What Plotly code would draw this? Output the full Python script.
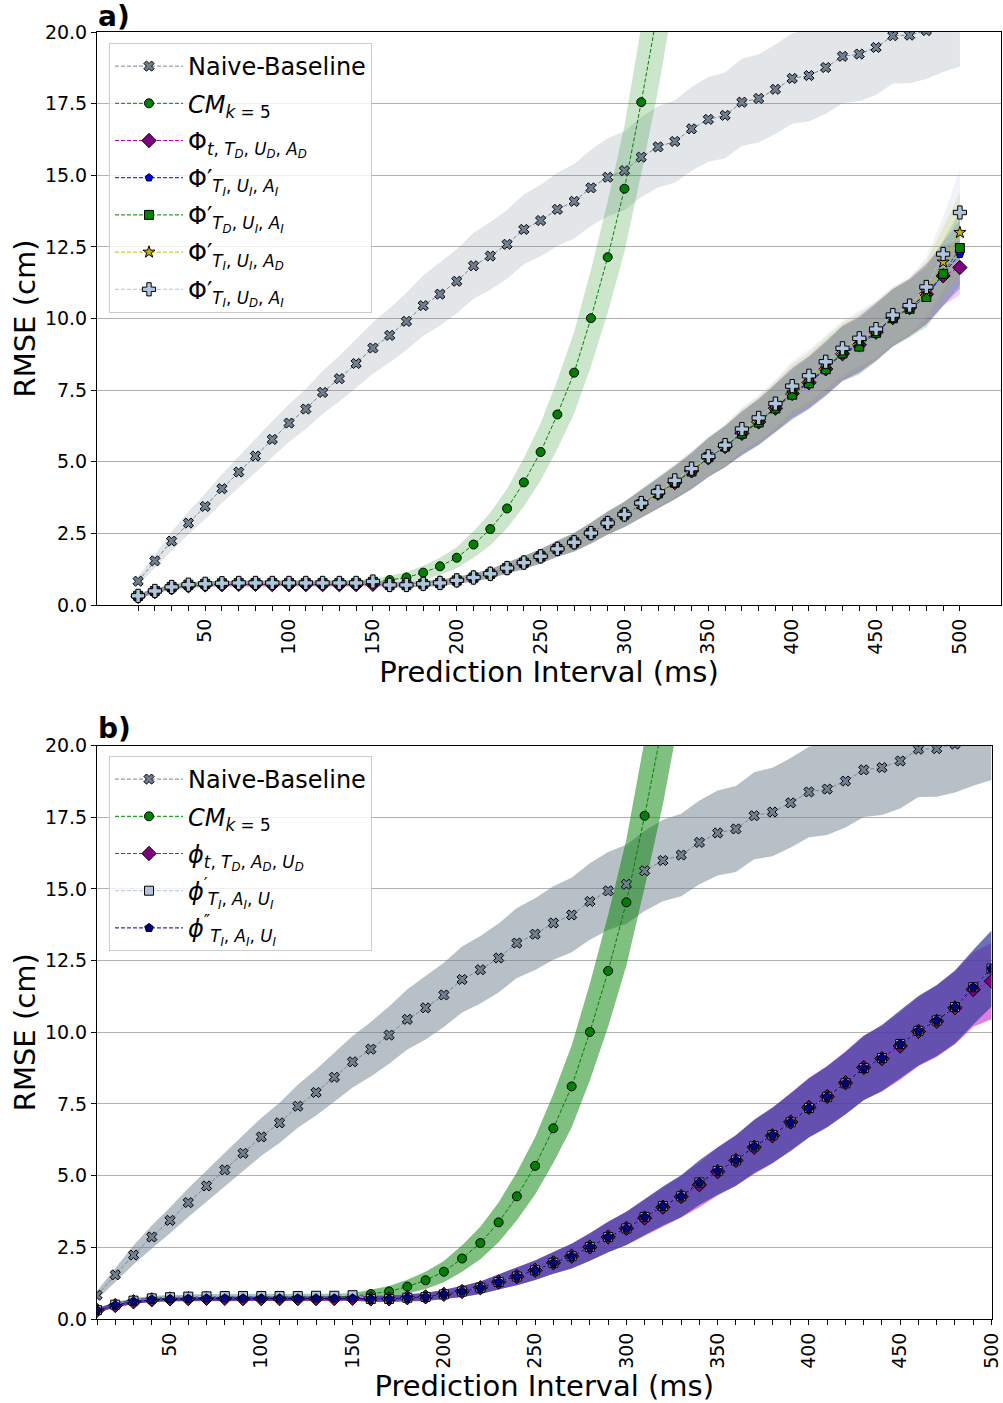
import plotly.graph_objects as go

# Prediction intervals (ms)
ms = list(range(10, 510, 10))

# ---- Naive baseline: mean RMSE (cm) and spread ----
naive_rmse = [0.83, 1.54, 2.23, 2.86, 3.44, 4.06, 4.64, 5.20, 5.78, 6.35,
              6.84, 7.42, 7.90, 8.43, 8.97, 9.41, 9.90, 10.45, 10.85, 11.30,
              11.84, 12.18, 12.59, 13.11, 13.42, 13.81, 14.09, 14.56, 14.93, 15.16,
              15.63, 15.99, 16.18, 16.62, 16.95, 17.09, 17.55, 17.68, 18.00, 18.38,
              18.48, 18.76, 19.15, 19.23, 19.46, 19.87, 19.89, 20.05, 20.30, 20.50]
naive_sd = [0.15, 0.25, 0.33, 0.40, 0.45, 0.50, 0.55, 0.60, 0.63, 0.66,
            0.70, 0.75, 0.80, 0.85, 0.90, 0.95, 1.00, 1.05, 1.10, 1.12,
            1.15, 1.18, 1.20, 1.22, 1.25, 1.28, 1.30, 1.33, 1.36, 1.38,
            1.40, 1.42, 1.44, 1.46, 1.48, 1.50, 1.52, 1.54, 1.56, 1.58,
            1.60, 1.62, 1.64, 1.65, 1.66, 1.67, 1.68, 1.69, 1.70, 1.70]

# ---- Constant-motion model (k = 5) ----
cm_ms = ms[:33]
cm_rmse = [0.30, 0.50, 0.63, 0.70, 0.73, 0.75, 0.76, 0.76, 0.76, 0.76,
           0.76, 0.76, 0.76, 0.77, 0.79, 0.87, 0.96, 1.13, 1.35, 1.65,
           2.11, 2.65, 3.37, 4.28, 5.34, 6.65, 8.11, 10.01, 12.14, 14.53,
           17.55, 20.80, 24.60]
cm_sd = [0.06, 0.08, 0.09, 0.10, 0.10, 0.10, 0.10, 0.10, 0.10, 0.10,
         0.10, 0.10, 0.10, 0.10, 0.11, 0.15, 0.19, 0.24, 0.30, 0.37,
         0.46, 0.57, 0.69, 0.84, 1.00, 1.20, 1.43, 1.68, 1.95, 2.20,
         2.50, 2.85, 3.25]

# ---- Network variants, panel a ----
phi_t_td_ud_ad = [0.30, 0.47, 0.60, 0.67, 0.70, 0.71, 0.72, 0.72, 0.71, 0.71,
                  0.71, 0.71, 0.71, 0.71, 0.72, 0.70, 0.70, 0.74, 0.77, 0.86,
                  0.96, 1.09, 1.29, 1.48, 1.70, 1.96, 2.19, 2.51, 2.86, 3.16,
                  3.52, 3.90, 4.27, 4.68, 5.14, 5.53, 5.99, 6.39, 6.87, 7.38,
                  7.76, 8.24, 8.77, 9.08, 9.52, 10.03, 10.38, 10.85, 11.49, 11.78]
phi_ti_ui_ai = [0.32, 0.49, 0.63, 0.71, 0.74, 0.76, 0.77, 0.77, 0.77, 0.77,
                0.77, 0.77, 0.77, 0.77, 0.81, 0.70, 0.70, 0.74, 0.77, 0.86,
                0.96, 1.09, 1.29, 1.48, 1.70, 1.96, 2.19, 2.51, 2.86, 3.16,
                3.52, 3.90, 4.27, 4.68, 5.15, 5.54, 6.00, 6.40, 6.88, 7.40,
                7.78, 8.27, 8.80, 9.10, 9.54, 10.03, 10.39, 10.85, 11.56, 12.24]
phi_td_ui_ai = [0.32, 0.49, 0.63, 0.71, 0.74, 0.76, 0.77, 0.77, 0.77, 0.77,
                0.77, 0.77, 0.77, 0.77, 0.81, 0.70, 0.70, 0.74, 0.77, 0.86,
                0.96, 1.09, 1.29, 1.48, 1.70, 1.96, 2.19, 2.51, 2.86, 3.16,
                3.52, 3.90, 4.27, 4.66, 5.16, 5.53, 5.98, 6.37, 6.86, 7.34,
                7.74, 8.23, 8.78, 9.02, 9.50, 10.01, 10.34, 10.75, 11.56, 12.46]
phi_ti_ui_ad = [0.32, 0.49, 0.63, 0.71, 0.74, 0.76, 0.77, 0.77, 0.77, 0.77,
                0.77, 0.77, 0.77, 0.77, 0.81, 0.70, 0.70, 0.74, 0.77, 0.86,
                0.96, 1.09, 1.29, 1.48, 1.70, 1.96, 2.19, 2.51, 2.86, 3.16,
                3.54, 3.92, 4.30, 4.72, 5.17, 5.56, 6.08, 6.47, 6.96, 7.52,
                7.90, 8.40, 8.88, 9.20, 9.57, 10.07, 10.40, 10.95, 11.97, 13.00]
phi_ti_ud_ai = [0.32, 0.49, 0.63, 0.71, 0.74, 0.76, 0.77, 0.77, 0.77, 0.77,
                0.77, 0.77, 0.77, 0.77, 0.82, 0.70, 0.70, 0.74, 0.77, 0.86,
                0.96, 1.09, 1.29, 1.48, 1.70, 1.96, 2.19, 2.51, 2.86, 3.16,
                3.56, 3.95, 4.35, 4.76, 5.19, 5.58, 6.14, 6.53, 7.03, 7.64,
                8.00, 8.49, 8.96, 9.31, 9.63, 10.12, 10.45, 11.10, 12.25, 13.70]

# spread shared by the panel-a variants up to 480 ms, then per-variant tails
phi_sd_head = [0.08, 0.08, 0.08, 0.08, 0.08, 0.08, 0.08, 0.08, 0.08, 0.08,
               0.08, 0.08, 0.08, 0.08, 0.08, 0.08, 0.09, 0.10, 0.11, 0.12,
               0.14, 0.16, 0.19, 0.22, 0.25, 0.28, 0.32, 0.36, 0.40, 0.44,
               0.48, 0.53, 0.58, 0.63, 0.68, 0.72, 0.76, 0.80, 0.84, 0.88,
               0.91, 0.94, 0.96, 0.98, 1.00, 1.00, 1.00, 1.05]
sd_tail_t_td_ud_ad = [1.05, 0.95]
sd_tail_ti_ui_ai = [1.10, 1.20]
sd_tail_td_ui_ai = [1.15, 1.30]
sd_tail_ti_ui_ad = [1.20, 1.40]
sd_tail_ti_ud_ai = [1.30, 1.50]

# ---- Network variants, panel b ----
phib_t_td_ad_ud = phi_t_td_ud_ad
phib_prime = [0.31, 0.50, 0.64, 0.72, 0.76, 0.78, 0.79, 0.80, 0.80, 0.80,
              0.80, 0.80, 0.81, 0.81, 0.83, 0.70, 0.70, 0.74, 0.77, 0.86,
              0.96, 1.09, 1.29, 1.48, 1.70, 1.96, 2.19, 2.51, 2.86, 3.16,
              3.56, 3.94, 4.28, 4.76, 5.16, 5.53, 6.02, 6.41, 6.86, 7.36,
              7.75, 8.22, 8.75, 9.10, 9.59, 10.05, 10.41, 10.88, 11.57, 12.22]
phib_dprime = [0.31, 0.48, 0.61, 0.68, 0.70, 0.71, 0.72, 0.72, 0.72, 0.72,
               0.72, 0.72, 0.72, 0.72, 0.72, 0.70, 0.70, 0.74, 0.77, 0.86,
               0.96, 1.09, 1.29, 1.48, 1.70, 1.96, 2.19, 2.51, 2.86, 3.16,
               3.56, 3.94, 4.28, 4.76, 5.16, 5.53, 6.02, 6.41, 6.86, 7.36,
               7.75, 8.22, 8.75, 9.10, 9.59, 10.05, 10.41, 10.88, 11.57, 12.22]
phib_sd = [0.08, 0.08, 0.08, 0.08, 0.08, 0.08, 0.08, 0.08, 0.08, 0.08,
           0.08, 0.08, 0.08, 0.08, 0.08, 0.10, 0.11, 0.12, 0.14, 0.16,
           0.19, 0.22, 0.26, 0.30, 0.34, 0.38, 0.43, 0.48, 0.53, 0.58,
           0.63, 0.68, 0.73, 0.78, 0.83, 0.88, 0.93, 0.97, 1.00, 1.03,
           1.06, 1.09, 1.12, 1.15, 1.18, 1.21, 1.24, 1.27, 1.30, 1.33]

y_ticks = [0, 2.5, 5, 7.5, 10, 12.5, 15, 17.5, 20]
x_tick_step = 10
FONT = "DejaVu Sans"
W, H = 1003, 1403


def sub(s):
    return "<sub>" + s + "</sub>"


def it(s):
    return "<i>" + s + "</i>"


cm_name = it("CM") + sub(it("k") + " = 5")
names_a = [
    "Φ" + sub(it("t") + ", " + it("T" + sub("D")) + ", " + it("U" + sub("D")) + ", " + it("A" + sub("D"))),
    "Φ′" + sub(it("T" + sub("I")) + ", " + it("U" + sub("I")) + ", " + it("A" + sub("I"))),
    "Φ′" + sub(it("T" + sub("D")) + ", " + it("U" + sub("I")) + ", " + it("A" + sub("I"))),
    "Φ′" + sub(it("T" + sub("I")) + ", " + it("U" + sub("I")) + ", " + it("A" + sub("D"))),
    "Φ′" + sub(it("T" + sub("I")) + ", " + it("U" + sub("D")) + ", " + it("A" + sub("I"))),
]
names_b = [
    it("ϕ") + sub(it("t") + ", " + it("T" + sub("D")) + ", " + it("A" + sub("D")) + ", " + it("U" + sub("D"))),
    it("ϕ") + "<sup>′</sup>" + sub(it("T" + sub("I")) + ", " + it("A" + sub("I")) + ", " + it("U" + sub("I"))),
    it("ϕ") + "<sup>″</sup>" + sub(it("T" + sub("I")) + ", " + it("A" + sub("I")) + ", " + it("U" + sub("I"))),
]

fig = go.Figure()


def rgba(rgb, a):
    return "rgba(%d,%d,%d,%.2f)" % (rgb[0], rgb[1], rgb[2], a)


def add_band(x, y, sd, rgb, alpha, xa, ya):
    upper = [v + s for v, s in zip(y, sd)]
    lower = [v - s for v, s in zip(y, sd)]
    fig.add_trace(go.Scatter(
        x=list(x) + list(x)[::-1], y=upper + lower[::-1],
        fill="toself", fillcolor=rgba(rgb, alpha), line=dict(width=0),
        mode="lines", hoverinfo="skip", showlegend=False, xaxis=xa, yaxis=ya))


def add_series(x, y, name, line_color, marker_color, symbol, size, xa, ya, legend):
    fig.add_trace(go.Scatter(
        x=x, y=y, name=name, mode="lines+markers",
        line=dict(color=line_color, width=1, dash="4px,2px"),
        marker=dict(symbol=symbol, size=size, color=marker_color,
                    line=dict(color="black", width=1)),
        xaxis=xa, yaxis=ya, legend=legend, legendgroup=name + xa))


SLATE = (112, 128, 144)
GREEN = (0, 128, 0)
PURPLE = (191, 0, 191)
BLUE = (0, 0, 255)
YELLOW = (191, 191, 0)
LSB = (176, 196, 222)
NAVY = (0, 0, 128)

# ---------- panel a ----------
a_series = [
    (phi_t_td_ud_ad, phi_sd_head + sd_tail_t_td_ud_ad, names_a[0], PURPLE, "#bf00bf", "#800080", "diamond", 11),
    (phi_ti_ui_ai, phi_sd_head + sd_tail_ti_ui_ai, names_a[1], BLUE, "#0000ff", "#0000ff", "pentagon", 8),
    (phi_td_ui_ai, phi_sd_head + sd_tail_td_ui_ai, names_a[2], GREEN, "#008000", "#008000", "square", 9),
    (phi_ti_ui_ad, phi_sd_head + sd_tail_ti_ui_ad, names_a[3], YELLOW, "#bfbf00", "#c8b400", "star", 9),
    (phi_ti_ud_ai, phi_sd_head + sd_tail_ti_ud_ai, names_a[4], LSB, "#b0c4de", "#b0c4de", "cross", 11),
]
add_band(ms, naive_rmse, naive_sd, SLATE, 0.2, "x", "y")
add_band(cm_ms, cm_rmse, cm_sd, GREEN, 0.2, "x", "y")
for vals, sd, nm, rgb, lc, mc, sym, sz in a_series:
    add_band(ms, vals, sd, rgb, 0.2, "x", "y")
add_series(ms, naive_rmse, "Naive-Baseline", "#778899", "#708090", "x", 9, "x", "y", "legend")
add_series(cm_ms, cm_rmse, cm_name, "#008000", "#008000", "circle", 9, "x", "y", "legend")
for vals, sd, nm, rgb, lc, mc, sym, sz in a_series:
    add_series(ms, vals, nm, lc, mc, sym, sz, "x", "y", "legend")

# ---------- panel b ----------
b_series = [
    (phib_t_td_ad_ud, phib_sd, names_b[0], PURPLE, "#bf00bf", "#800080", "diamond", 11),
    (phib_prime, phib_sd, names_b[1], LSB, "#b0c4de", "#b0c4de", "square", 9),
    (phib_dprime, phib_sd, names_b[2], NAVY, "#000080", "#000080", "pentagon", 9),
]
add_band(ms, naive_rmse, naive_sd, SLATE, 0.5, "x2", "y2")
add_band(cm_ms, cm_rmse, cm_sd, GREEN, 0.5, "x2", "y2")
for vals, sd, nm, rgb, lc, mc, sym, sz in b_series:
    add_band(ms, vals, sd, rgb, 0.5, "x2", "y2")
add_series(ms, naive_rmse, "Naive-Baseline", "#778899", "#708090", "x", 9, "x2", "y2", "legend2")
add_series(cm_ms, cm_rmse, cm_name, "#008000", "#008000", "circle", 9, "x2", "y2", "legend2")
for vals, sd, nm, rgb, lc, mc, sym, sz in b_series:
    add_series(ms, vals, nm, lc, mc, sym, sz, "x2", "y2", "legend2")

x_tickvals = list(range(10, 510, x_tick_step))
x_ticktext = [str(v) if v % 50 == 0 else "" for v in x_tickvals]
y_ticktext = ["%.1f" % v for v in y_ticks]

common_x = dict(
    tickmode="array", tickvals=x_tickvals, ticktext=x_ticktext, tickangle=-90,
    ticks="outside", ticklen=5, tickwidth=1, tickcolor="black",
    showline=True, mirror=True, linecolor="black", linewidth=1,
    showgrid=False, zeroline=False,
    tickfont=dict(family=FONT, size=19, color="black"),
    title=dict(text="Prediction Interval (ms)", font=dict(family=FONT, size=29, color="black"), standoff=0),
)
common_y = dict(
    tickmode="array", tickvals=y_ticks, ticktext=y_ticktext, range=[0, 20],
    ticks="outside", ticklen=5, tickwidth=1, tickcolor="black",
    showline=True, mirror=True, linecolor="black", linewidth=1,
    showgrid=True, gridcolor="#b0b0b0", gridwidth=1.3, zeroline=False,
    tickfont=dict(family=FONT, size=19, color="black"),
    title=dict(text="RMSE (cm)", font=dict(family=FONT, size=29, color="black"), standoff=0),
)

legend_common = dict(
    xanchor="left", yanchor="top", bgcolor="rgba(255,255,255,0.8)",
    bordercolor="#cccccc", borderwidth=1, itemwidth=68, tracegroupgap=3,
    font=dict(family=FONT, size=24, color="black"),
)

fig.update_layout(
    width=W, height=H, margin=dict(l=0, r=0, t=0, b=0, autoexpand=False),
    paper_bgcolor="white", plot_bgcolor="white",
    font=dict(family=FONT, color="black"),
    xaxis=dict(domain=[97 / W, 1001 / W], range=[-14.5, 524.5], anchor="y", **common_x),
    yaxis=dict(domain=[1 - 605 / H, 1 - 32 / H], anchor="x", **common_y),
    xaxis2=dict(domain=[97 / W, 991.5 / W], range=[10, 500], anchor="y2", **common_x),
    yaxis2=dict(domain=[1 - 1319 / H, 1 - 745.5 / H], anchor="x2", **common_y),
    legend=dict(x=109 / W, y=1 - 43 / H, **legend_common),
    legend2=dict(x=109 / W, y=1 - 756 / H, **legend_common),
    annotations=[
        dict(text="<b>a)</b>", x=96 / W, y=1 - 17 / H, xref="paper", yref="paper",
             xanchor="left", yanchor="middle", showarrow=False,
             font=dict(family=FONT, size=28, color="black")),
        dict(text="<b>b)</b>", x=96 / W, y=1 - 729 / H, xref="paper", yref="paper",
             xanchor="left", yanchor="middle", showarrow=False,
             font=dict(family=FONT, size=28, color="black")),
    ],
)

fig.write_html("out.html", post_script="document.body.style.margin='0';")
